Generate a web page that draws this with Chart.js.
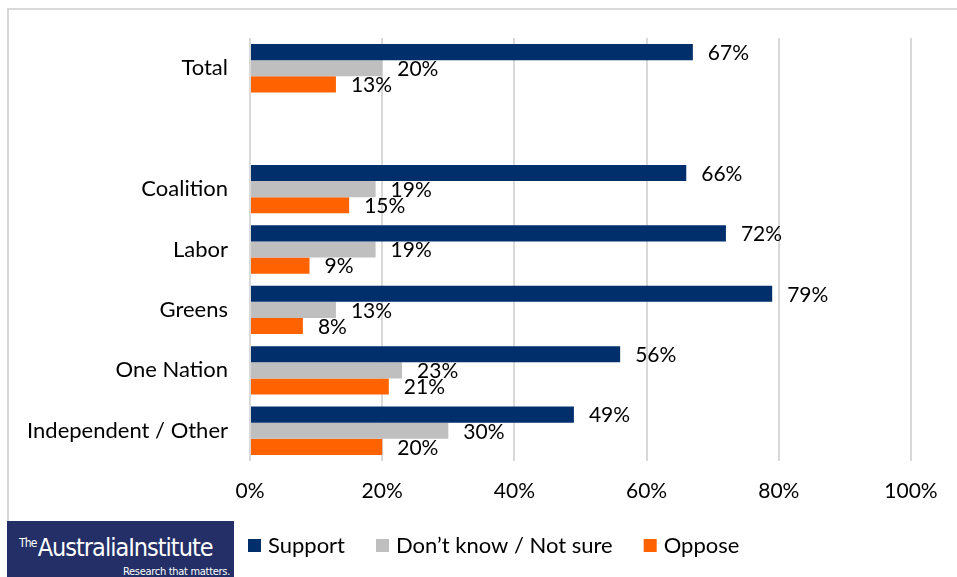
<!DOCTYPE html>
<html>
<head>
<meta charset="utf-8">
<title>Support by voting intention</title>
<script src="https://cdn.jsdelivr.net/npm/chart.js@4.4.1/dist/chart.umd.min.js"></script>
<style>
    html, body { margin: 0; padding: 0; background: #fff; }
    #wrap { position: relative; width: 957px; height: 577px; overflow: hidden; }
    #frame {
        position: absolute; left: 7px; top: 8px; width: 1000px; height: 600px;
        border-left: 2px solid #d9d9d9; border-top: 2px solid #d9d9d9;
    }
    #chart { position: absolute; left: 0; top: 0; }
    #logo {
        position: absolute; left: 7px; top: 521px; width: 227px; height: 56px;
        background: #232f66; color: #fff;
        font-family: "Liberation Sans Narrow", "DejaVu Sans Condensed", sans-serif;
    }
    #logo .name { position: absolute; left: 12px; top: 12px; font-size: 25px; letter-spacing: -1px; white-space: nowrap; }
    #logo .name sup { font-size: 12px; letter-spacing: -0.8px; vertical-align: 9px; margin-right: 1px; }
    #logo .tag { position: absolute; right: 4px; top: 44px; font-size: 11px; letter-spacing: -0.3px; }
</style>
</head>
<body>
<div id="wrap">
    <div id="frame"></div>
    <canvas id="chart" width="957" height="577"></canvas>
    <div id="logo">
        <div class="name"><sup>The</sup>AustraliaInstitute</div>
        <div class="tag">Research that matters.</div>
    </div>
</div>
<script>
// Chart data
const categories = ['Total', '', 'Coalition', 'Labor', 'Greens', 'One Nation', 'Independent / Other'];
const supportValues = [67, null, 66, 72, 79, 56, 49];
const unsureValues = [20, null, 19, 19, 13, 23, 30];
const opposeValues = [13, null, 15, 9, 8, 21, 20];
const seriesNames = ['Support', 'Don\u2019t know / Not sure', 'Oppose'];
const tickValues = [0, 20, 40, 60, 80, 100];

const FONT = 'Lato, "Open Sans", sans-serif';
const TEXT_COLOR = '#000';

/**
 * Value labels drawn just past the end of every bar
 */
const barLabels = {
    id: 'barLabels',
    afterDatasetsDraw(chart) {
        const ctx = chart.ctx;
        ctx.save();
        ctx.font = '21px ' + FONT;
        ctx.fillStyle = TEXT_COLOR;
        ctx.textAlign = 'left';
        ctx.textBaseline = 'middle';
        chart.data.datasets.forEach((ds, i) => {
            const meta = chart.getDatasetMeta(i);
            meta.data.forEach((bar, j) => {
                const v = ds.data[j];
                if (v === null) return;
                ctx.fillText(v + '%', bar.x + 15, bar.y + 1);
            });
        });
        ctx.restore();
    }
};

/**
 * Legend row along the bottom, next to the logo
 */
const bottomLegend = {
    id: 'bottomLegend',
    afterDraw(chart) {
        const ctx = chart.ctx;
        ctx.save();
        ctx.font = '22px ' + FONT;
        ctx.textBaseline = 'middle';
        ctx.textAlign = 'left';
        let x = 248;
        const y = 546;
        chart.data.datasets.forEach(ds => {
            ctx.fillStyle = ds.backgroundColor;
            ctx.fillRect(x, y - 7, 13, 13);
            x += 20;
            ctx.fillStyle = TEXT_COLOR;
            ctx.fillText(ds.label, x, y);
            x += ctx.measureText(ds.label).width + 31;
        });
        ctx.restore();
    }
};

new Chart(document.getElementById('chart'), {
    type: 'bar',
    data: {
        labels: categories,
        datasets: [
            { label: seriesNames[0], data: supportValues, backgroundColor: '#002f6c' },
            { label: seriesNames[1], data: unsureValues, backgroundColor: '#bfbfbf' },
            { label: seriesNames[2], data: opposeValues, backgroundColor: '#ff6200' }
        ]
    },
    options: {
        indexAxis: 'y',
        responsive: false,
        animation: false,
        datasets: {
            bar: { categoryPercentage: 0.8, barPercentage: 1.0 }
        },
        layout: { padding: { top: 38, right: 46, left: 0, bottom: 0 } },
        plugins: {
            legend: { display: false },
            tooltip: { enabled: false }
        },
        scales: {
            x: {
                min: 0,
                max: 100,
                afterBuildTicks: axis => { axis.ticks = tickValues.map(v => ({ value: v })); },
                afterFit: axis => { axis.height = 116; },
                ticks: {
                    callback: v => v + '%',
                    font: { family: FONT, size: 21 },
                    color: TEXT_COLOR,
                    padding: 18,
                    maxRotation: 0
                },
                grid: { color: '#d9d9d9', lineWidth: 2, drawTicks: false },
                border: { display: false }
            },
            y: {
                afterFit: axis => { axis.width = 250; },
                ticks: {
                    font: { family: FONT, size: 22 },
                    color: TEXT_COLOR,
                    padding: 22,
                    autoSkip: false
                },
                grid: { display: false, drawTicks: false },
                border: { display: false }
            }
        }
    },
    plugins: [barLabels, bottomLegend]
});
</script>
</body>
</html>
